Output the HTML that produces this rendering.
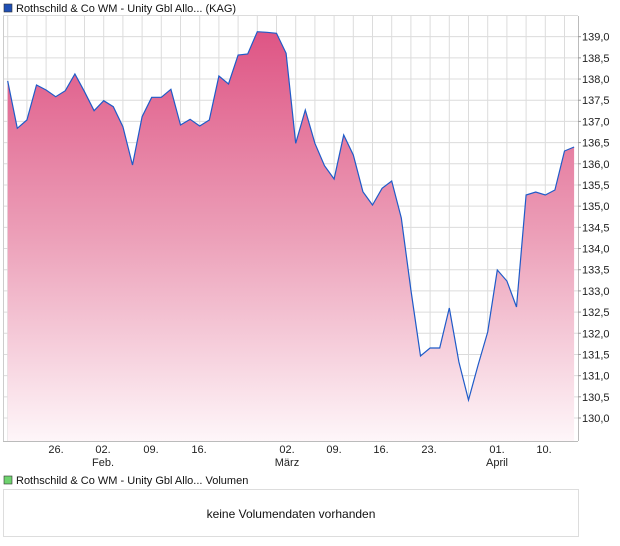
<!DOCTYPE html>
<html><head><meta charset="utf-8"><style>
body{margin:0;background:#fff;}
svg{display:block;font-family:"Liberation Sans",sans-serif;}
</style></head><body>
<svg width="620" height="546" viewBox="0 0 620 546" xmlns="http://www.w3.org/2000/svg">
<defs>
<linearGradient id="g" x1="0" y1="30" x2="0" y2="441" gradientUnits="userSpaceOnUse">
<stop offset="0" stop-color="#de5484"/>
<stop offset="0.5" stop-color="#ec9fb8"/>
<stop offset="1" stop-color="#fef6f9"/>
</linearGradient>
</defs>
<rect x="4" y="4" width="8" height="8" fill="#1f4fb4" stroke="#333" stroke-width="0.6"/>
<text x="16" y="12" font-size="11" fill="#111">Rothschild &amp; Co WM - Unity Gbl Allo... (KAG)</text>
<g id="grid" stroke="#dcdcdc" stroke-width="1"></g>
<path id="area" fill="url(#g)"/>
<polyline id="line" fill="none" stroke="#1f5bc8" stroke-width="1.2"/>
<line x1="3.5" y1="16" x2="3.5" y2="441" stroke="#ccc"/>
<line x1="578.5" y1="16" x2="578.5" y2="441" stroke="#bbb"/>
<line x1="3" y1="441.5" x2="578" y2="441.5" stroke="#bbb"/>
<g id="ylab" font-size="11" fill="#222"></g>
<g font-size="11" fill="#222" text-anchor="middle">
<text x="56" y="453">26.</text>
<text x="103" y="453">02.</text><text x="103" y="466">Feb.</text>
<text x="151" y="453">09.</text>
<text x="199" y="453">16.</text>
<text x="287" y="453">02.</text><text x="287" y="466">März</text>
<text x="334" y="453">09.</text>
<text x="381" y="453">16.</text>
<text x="429" y="453">23.</text>
<text x="497" y="453">01.</text><text x="497" y="466">April</text>
<text x="544" y="453">10.</text>
</g>
<rect x="4" y="476" width="8" height="8" fill="#6ed36e" stroke="#333" stroke-width="0.6"/>
<text x="16" y="484" font-size="11" fill="#111">Rothschild &amp; Co WM - Unity Gbl Allo... Volumen</text>
<rect x="3.5" y="489.5" width="575" height="47" fill="#fff" stroke="#ddd"/>
<text x="291" y="518" font-size="12" fill="#111" text-anchor="middle">keine Volumendaten vorhanden</text>
</svg>
<script>
const ys=[81,128.3,120,85,90,96.7,90.7,74,91.7,110.7,100.7,106.7,126.7,165,116.7,97.3,97.3,89.3,125,119.3,126,120,76,84,55,54,31.7,32.3,33.3,53.3,143.3,110,143.3,165.7,179,135,155,191.7,205,188.3,181,218,290,356,348,348,308,362,400,365,332,270,281,307,195,192,195,190,151,147];
const pts=ys.map((y,i)=>[(7.7+9.6*i).toFixed(1),y]);
document.getElementById('line').setAttribute('points',pts.map(p=>p.join(',')).join(' '));
document.getElementById('area').setAttribute('d','M7.7,441 L'+pts.map(p=>p.join(',')).join(' L')+' L'+pts[pts.length-1][0]+',441 Z');
const NS='http://www.w3.org/2000/svg';
const g=document.getElementById('grid');
for(let k=0;k<30;k++){const x=7.7+19.2*k;const l=document.createElementNS(NS,'line');l.setAttribute('x1',x);l.setAttribute('x2',x);l.setAttribute('y1',16);l.setAttribute('y2',441);g.appendChild(l);}
const yl=document.getElementById('ylab');
for(let i=0;i<=19;i++){const v=130+i*0.5;const y=418-(v-130)*42.37;
const l=document.createElementNS(NS,'line');l.setAttribute('x1',3);l.setAttribute('x2',578);l.setAttribute('y1',y);l.setAttribute('y2',y);g.appendChild(l);
if(v<=139){const t=document.createElementNS(NS,'text');t.setAttribute('x',582);t.setAttribute('y',y+4);t.textContent=v.toFixed(1).replace('.',',');yl.appendChild(t);
const tk=document.createElementNS(NS,'line');tk.setAttribute('x1',578);tk.setAttribute('x2',581);tk.setAttribute('y1',y);tk.setAttribute('y2',y);tk.setAttribute('stroke','#999');yl.appendChild(tk);}}
const b=document.createElementNS(NS,'rect');
</script>
</body></html>
